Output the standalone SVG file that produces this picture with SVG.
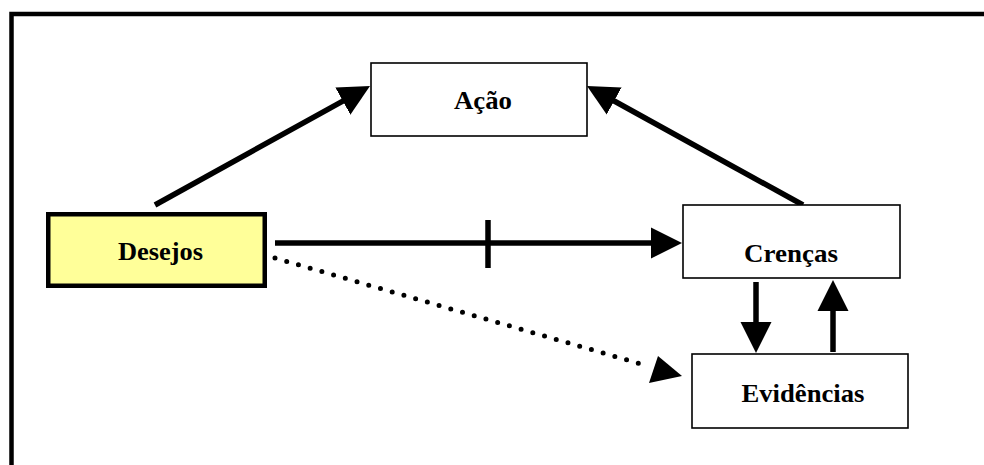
<svg xmlns="http://www.w3.org/2000/svg" width="984" height="465" viewBox="0 0 984 465">
  <style>
    .box { fill: #ffffff; stroke: #000000; stroke-width: 1.6; }
    .box-main { fill: #ffff99; stroke: #000000; stroke-width: 4.5; }
    .label { font-family: "Liberation Serif", "Times New Roman", serif; font-weight: bold; font-size: 26px; fill: #000000; text-anchor: middle; }
    .conn { stroke: #000000; stroke-width: 5.5; fill: none; }
    .dotted { stroke: #000000; stroke-width: 5; fill: none; stroke-linecap: round; stroke-dasharray: 0 12.2; }
  </style>
  <defs>
    <marker id="head" markerUnits="userSpaceOnUse" markerWidth="34" markerHeight="34" viewBox="0 -17 34 34" refX="2" refY="0" orient="auto">
      <path d="M0,-15.5 L31,0 L0,15.5 Z" fill="#000000"/>
    </marker>
  </defs>

  <rect width="984" height="465" fill="#ffffff"/>

  <!-- outer frame, open to the right and bottom -->
  <path d="M11.5,470 L11.5,14 L990,14" fill="none" stroke="#000000" stroke-width="4.5"/>

  <g id="connectors">
    <!-- Desejos to Acao -->
    <line class="conn" x1="155" y1="205" x2="344.6" y2="100.1" marker-end="url(#head)"/>
    <!-- Crencas to Acao -->
    <line class="conn" x1="803" y1="205" x2="612.4" y2="100" marker-end="url(#head)"/>
    <!-- Desejos to Crencas, crossed -->
    <line class="conn" x1="275" y1="243" x2="653" y2="243" marker-end="url(#head)"/>
    <line class="conn" x1="488" y1="220" x2="488" y2="268"/>
    <!-- Desejos to Evidencias, dotted -->
    <line class="dotted" x1="275" y1="258" x2="648" y2="366"/>
    <path d="M682,376 L658,356 L649,383 Z" fill="#000000"/>
    <!-- Crencas to Evidencias -->
    <line class="conn" x1="756" y1="282" x2="756" y2="324" marker-end="url(#head)"/>
    <!-- Evidencias to Crencas -->
    <line class="conn" x1="833" y1="352" x2="833" y2="309" marker-end="url(#head)"/>
  </g>

  <g id="acao">
    <rect class="box" x="371" y="63" width="216" height="73"/>
    <text class="label" x="483" y="109" textLength="58" lengthAdjust="spacingAndGlyphs">Ação</text>
  </g>

  <g id="desejos">
    <rect class="box-main" x="48.25" y="214.25" width="216.5" height="71.5"/>
    <text class="label" x="160.5" y="260" textLength="85" lengthAdjust="spacingAndGlyphs">Desejos</text>
  </g>

  <g id="crencas">
    <rect class="box" x="683" y="205" width="217" height="73"/>
    <text class="label" x="791" y="262" textLength="94" lengthAdjust="spacingAndGlyphs">Crenças</text>
  </g>

  <g id="evidencias">
    <rect class="box" x="692" y="354" width="216" height="74"/>
    <text class="label" x="803" y="402" textLength="123" lengthAdjust="spacingAndGlyphs">Evidências</text>
  </g>
</svg>
